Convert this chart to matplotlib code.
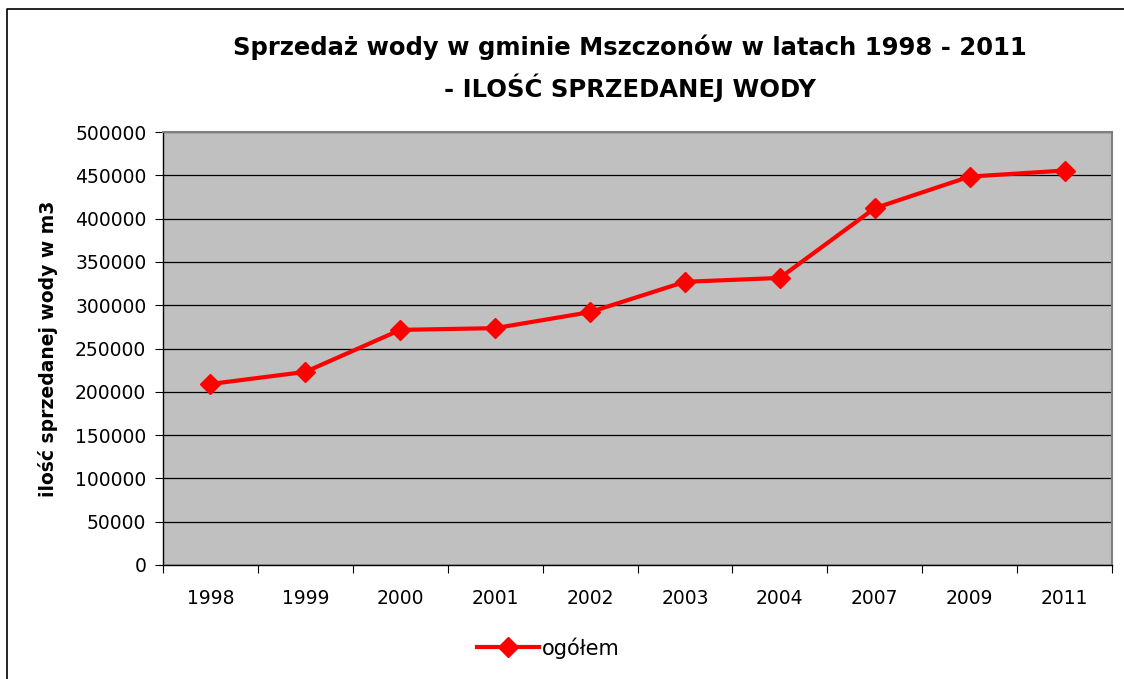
import numpy as np
import matplotlib.pyplot as plt
from matplotlib.lines import Line2D

plt.rcParams['font.family'] = ['DejaVu Sans']

# sprzedaz wody w m3
lata = ['1998', '1999', '2000', '2001', '2002', '2003', '2004', '2007', '2009', '2011']
ogolem = [209000, 223000, 271500, 273500, 292000, 327000, 331500, 412000, 448500, 455500]
y_ticks = [0, 50000, 100000, 150000, 200000, 250000, 300000, 350000, 400000, 450000, 500000]

W, H = 1124, 679
fig = plt.figure(figsize=(W / 100, H / 100), dpi=100)

# ramka wykresu
fig.add_artist(Line2D([7 / W, 7 / W, 1.0], [0.0, 1 - 9 / H, 1 - 9 / H],
                      transform=fig.transFigure, color='black', lw=1.2))

ax = fig.add_axes([163 / W, (H - 565) / H, (1112 - 163) / W, (565 - 132) / H])
ax.set_facecolor('#c0c0c0')

x = np.arange(len(lata))
ax.plot(x, ogolem, color='#ff0000', lw=3, marker='D', markersize=10,
        markeredgewidth=1, label='ogółem', zorder=3)

ax.set_xlim(-0.5, len(lata) - 0.5)
ax.set_ylim(0, 500000)
ax.set_yticks(y_ticks)
ax.set_yticklabels([str(v) for v in y_ticks], fontsize=13.5)
ax.set_xticks(x)
ax.set_xticklabels(lata, fontsize=13.5)
ax.set_xticks(np.arange(-0.5, len(lata)), minor=True)
ax.tick_params(axis='x', which='major', length=0, pad=17)
ax.tick_params(axis='x', which='minor', length=6, width=0.8, direction='out')
ax.tick_params(axis='y', length=6, width=0.8, direction='out', pad=6)

ax.yaxis.grid(True, color='black', lw=0.9)
ax.set_axisbelow(True)
for s in ['top', 'right']:
    ax.spines[s].set_color('#808080')
    ax.spines[s].set_linewidth(1.5)
for s in ['left', 'bottom']:
    ax.spines[s].set_color('black')
    ax.spines[s].set_linewidth(1)

ax.set_ylabel('ilość sprzedanej wody w m3', fontsize=13.5, fontweight='bold', labelpad=12)

fig.text(630 / W, 1 - 47 / H, 'Sprzedaż wody w gminie Mszczonów w latach 1998 - 2011',
         ha='center', va='center', fontsize=17.5, fontweight='bold')
fig.text(630 / W, 1 - 88 / H, '- ILOŚĆ SPRZEDANEJ WODY',
         ha='center', va='center', fontsize=17.5, fontweight='bold')

ax.legend(loc='center', bbox_to_anchor=(548 / W, 1 - 648 / H), bbox_transform=fig.transFigure,
          frameon=False, fontsize=15, handlelength=3.0, handletextpad=0.1)

fig.savefig('out.png', dpi=100)
